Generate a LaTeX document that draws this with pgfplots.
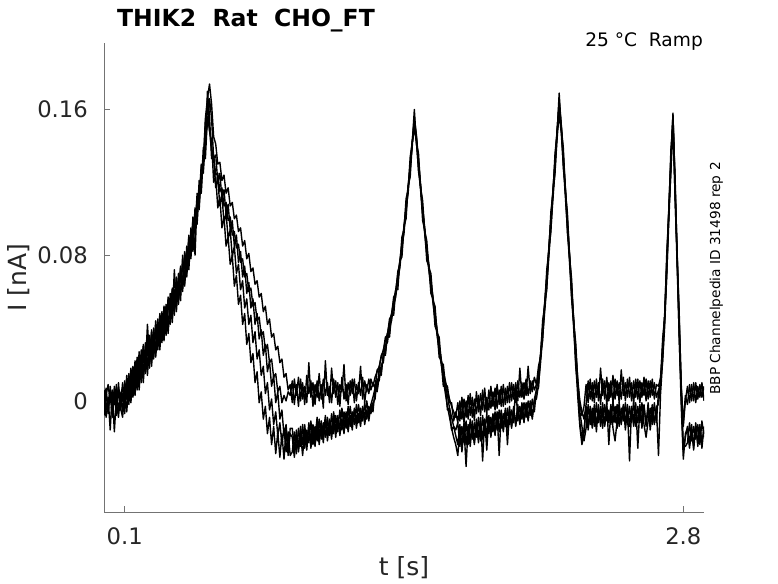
\documentclass[border=0pt]{standalone}
\usepackage{fontspec}
\setmainfont{DejaVu Sans}
\usepackage{pgfplots}
\usepackage{pgfplotstable}
\pgfplotsset{compat=1.18}
% k = time in units of 10 ms ; A..E = current in pA (0.001 nA)
\pgfplotstableread{
k A B C D E
0 -3 6 -8 4 1
1 7 -5 3 -9 5
2 -6 2 9 -2 -7
3 4 -16 -1 6 8
4 -9 5 6 -5 -3
5 8 -2 -17 3 6
6 -4 9 2 -8 -1
7 5 -6 7 10 -9
8 -2 3 -5 -4 4
9 10 -6 4 -9 7
10 -1 11 -7 6 -4
11 14 1 10 -6 12
12 3 15 -2 11 0
13 18 4 14 -1 17
14 6 19 2 15 5
15 22 6 18 3 21
16 11 24 6 19 8
17 27 10 22 6 25
18 14 28 10 24 12
19 31 13 27 10 30
20 18 32 15 28 16
21 42 17 31 14 34
22 23 36 18 32 21
23 39 22 35 19 38
24 27 40 23 36 25
25 44 26 39 24 42
26 31 45 28 41 30
27 48 31 44 28 47
28 35 49 32 46 34
29 52 35 48 33 51
30 39 53 36 50 38
31 57 39 45 37 56
32 45 59 42 55 44
33 62 46 59 43 61
34 50 72 47 61 49
35 68 52 65 49 67
36 56 70 53 66 55
37 74 58 71 55 73
38 63 77 60 80 62
39 82 65 78 63 81
40 71 85 68 81 70
41 91 75 88 72 90
42 81 95 78 91 80
43 101 85 97 82 100
44 93 106 80 102 92
45 114 99 110 97 112
46 109 121 105 117 108
47 130 116 125 114 128
48 129 139 125 134 131
49 153 140 143 133 155
50 162 170 152 156 166
51 148 156 166 149 174
52 143 133 155 137 163
53 120 133 133 135 145
54 123 117 135 124 141
55 106 122 120 125 130
56 112 107 125 115 131
57 95 113 111 117 121
58 101 98 116 107 124
59 85 103 102 109 114
60 90 89 108 99 117
61 75 94 94 101 107
62 80 79 99 91 109
63 63 85 85 93 100
64 69 70 91 84 102
65 53 75 76 86 93
66 58 61 82 76 95
67 42 66 68 78 85
68 48 51 74 68 88
69 31 56 59 70 78
70 37 42 65 60 81
71 21 47 51 62 71
72 26 32 56 52 73
73 10 38 42 54 64
74 16 23 48 44 66
75 -1 28 34 46 57
76 5 14 39 36 59
77 -10 19 25 38 49
78 -3 4 31 28 52
79 -18 10 16 31 42
80 -9 -5 22 21 45
81 -24 1 8 23 35
82 -14 -13 14 13 37
83 -29 -6 -1 15 28
84 -17 -19 5 5 30
85 -31 -12 -10 8 21
86 -18 -24 -5 -1 23
87 -32 -15 -19 3 13
88 -16 -28 -13 0 15
89 -30 -17 -27 5 6
90 -15 -30 -18 3 9
91 -15 -28 -20 11 -1
92 -27 -17 -31 -2 12
93 -16 -29 -19 9 3
94 -26 -15 -28 -3 13
95 -14 -25 -18 12 0
96 -24 -13 -30 1 10
97 -13 -26 -17 8 -2
98 -25 -16 -27 -1 14
99 -12 -23 -14 21 4
100 -22 -11 -26 2 11
101 -13 -24 -15 10 -3
102 -21 -14 -25 -2 9
103 -9 -22 -12 11 2
104 -20 -10 -24 0 15
105 -11 -21 -13 9 1
106 -19 -12 -23 -4 12
107 -8 -20 -10 22 3
108 -18 -9 -22 3 10
109 -10 -19 -12 8 -1
110 -17 -7 -21 -1 18
111 -6 -18 -9 12 4
112 -16 -8 -20 2 11
113 -9 -17 -8 10 -2
114 -15 -5 -19 -3 9
115 -4 -16 -10 13 5
116 -14 -6 -18 1 20
117 -7 -15 -6 9 0
118 -13 -3 -17 -2 10
119 -3 -14 -8 11 3
120 -12 -6 -16 4 12
121 -5 -13 -4 12 -1
122 -11 -2 -15 0 9
123 -2 -12 -7 10 4
124 -10 -4 -14 3 19
125 -4 -11 -3 13 1
126 -9 -1 -13 -1 11
127 0 -10 -5 9 5
128 -8 -3 -11 4 12
129 -2 -7 -2 12 6
130 2 -1 -6 8 10
131 7 1 6 13 7
132 6 12 5 16 17
133 18 11 13 19 18
134 14 20 16 24 25
135 26 21 25 28 27
136 25 31 26 33 35
137 37 32 36 37 36
138 35 41 37 43 45
139 48 44 47 48 47
140 47 53 51 55 57
141 61 57 60 61 59
142 61 67 65 69 71
143 77 73 76 77 75
144 79 85 83 86 90
145 96 92 95 96 94
146 100 106 104 107 111
147 118 114 117 118 116
148 123 129 127 130 134
149 142 140 142 143 142
150 149 156 150 154 160
151 144 145 142 146 141
152 126 131 128 132 136
153 118 118 116 119 117
154 99 105 103 106 110
155 94 94 92 95 93
156 77 83 81 84 88
157 74 74 72 75 73
158 59 64 63 66 70
159 56 56 54 57 55
160 41 47 45 48 52
161 38 38 36 39 37
162 24 30 28 31 35
163 22 22 20 23 21
164 8 15 12 16 20
165 8 8 4 11 9
166 -5 3 -3 6 8
167 -4 -4 -9 1 -1
168 -16 -9 -15 -3 -1
169 -14 -14 -20 -6 -11
170 -19 -16 -24 -9 -6
171 -24 -12 -30 -1 -12
172 -13 -25 -16 -11 0
173 -26 -14 -28 2 -10
174 -12 -23 -15 -12 1
175 -24 -11 -36 0 -9
176 -13 -24 -14 -10 3
177 -22 -10 -25 4 -8
178 -11 -21 -13 -9 2
179 -23 -12 -24 1 -11
180 -10 -20 -12 -7 5
181 -21 -9 -23 3 -6
182 -9 -22 -11 -8 4
183 -33 -8 -21 6 -5
184 -10 -19 -10 -6 7
185 -19 -7 -27 2 -7
186 -8 -18 -9 -5 6
187 -18 -9 -20 8 -4
188 -7 -17 -8 -3 5
189 -19 -6 -18 7 -5
190 -6 -16 -7 -4 9
191 -17 -5 -30 6 -2
192 -5 -15 -6 -3 8
193 -16 -7 -17 9 -3
194 -4 -14 -5 -2 7
195 -15 -4 -24 8 -1
196 -3 -13 -6 -1 10
197 -14 -5 -15 10 0
198 -4 -12 -3 1 9
199 -13 10 -14 9 -1
200 -2 -11 -4 0 11
201 -12 -3 -13 18 2
202 -1 -10 -2 2 10
203 -11 -1 -12 10 1
204 -3 -9 -1 3 12
205 -10 0 -11 19 3
206 0 -8 -2 4 11
207 -9 1 -10 11 5
208 1 -6 0 6 13
209 6 6 1 9 9
210 7 13 9 15 19
211 25 24 21 26 24
212 33 39 35 40 44
213 53 53 49 54 52
214 61 67 63 68 72
215 83 83 79 84 82
216 93 99 95 100 104
217 115 115 111 116 114
218 125 131 127 132 136
219 148 148 144 149 147
220 157 165 158 163 169
221 151 151 147 152 150
222 128 134 130 135 139
223 116 116 112 117 115
224 92 98 94 99 103
225 80 80 76 81 79
226 56 62 58 63 67
227 44 44 40 45 43
228 19 26 21 28 32
229 7 9 2 12 10
230 -12 -6 -14 -2 0
231 -21 -14 -24 -8 -6
232 -16 -22 -18 -3 -10
233 -4 -15 -3 9 -2
234 -14 -2 -16 -1 11
235 -3 -13 -5 12 1
236 -12 -4 -15 0 10
237 -2 -14 -4 11 -1
238 -13 -1 -17 2 12
239 -5 -12 -2 10 0
240 -11 -3 -14 -2 18
241 -1 -15 -6 12 3
242 -14 -2 -13 1 11
243 -3 -11 -1 13 -2
244 -12 -5 -24 0 10
245 -2 -13 -4 11 2
246 -15 0 -12 -1 14
247 -22 -12 -3 12 1
248 -11 -2 -15 3 11
249 -1 -14 -5 10 -1
250 -13 -4 -12 1 17
251 -3 -11 -2 13 3
252 -12 -1 -16 0 10
253 -2 -13 -4 12 2
254 -14 -3 -33 2 13
255 -4 -12 -3 10 0
256 -11 0 -14 -1 11
257 -1 -14 -5 12 2
258 -26 -3 -12 1 12
259 -3 -12 -2 11 -1
260 -12 -1 -15 2 10
261 -2 -13 -3 13 3
262 -14 -20 -13 0 12
263 -4 -11 -1 11 1
264 -11 -4 -16 2 11
265 -2 -13 -5 12 3
266 -13 -1 -12 1 10
267 -3 -12 -4 9 2
268 -2 5 -30 8 6
269 10 10 4 13 9
270 22 28 22 30 34
271 46 46 41 48 46
272 69 75 70 77 81
273 104 104 99 106 104
274 126 132 127 134 138
275 157 158 152 157 153
276 112 118 113 120 124
277 80 80 75 82 80
278 35 42 36 45 49
279 3 5 -3 9 7
280 -28 -24 -32 -14 -12
281 -20 -25 -18 0 3
282 -14 -23 -15 8 -2
283 -24 -12 -26 -1 9
284 -13 -22 -16 9 0
285 -25 -14 -27 0 10
286 -12 -21 -14 10 -1
287 -23 -13 -25 1 8
288 -15 -24 -13 9 2
289 -22 -11 -26 2 10
290 -16 -20 -14 8 0
}\traces

\begin{document}
\begin{tikzpicture}
\path[use as bounding box] (0,0) rectangle (778pt,583pt);
\begin{axis}[
  at={(104pt,71pt)}, anchor=south west,
  scale only axis, width=600pt, height=469pt,
  xmin=0, xmax=290, ymin=-61, ymax=196.5,
  axis x line*=bottom, axis y line*=left,
  axis line style={-, black!55, line width=0.8pt},
  every outer x axis line/.append style={-},
  every outer y axis line/.append style={-},
  xtick={10,280}, xticklabels={0.1,2.8},
  ytick={0,80,160}, yticklabels={0,0.08,0.16},
  tick style={black!55, line width=0.8pt},
  major tick length=6pt, tick align=inside,
  ticklabel style={font=\fontsize{22.7}{27}\selectfont, text=black!85, inner sep=0pt},
  yticklabel style={xshift=-16pt},
  xticklabel style={yshift=-15pt},
  /pgf/number format/assume math mode=true,
]
\addplot[black, line width=1.4pt, line join=round] table[x=k, y=A] {\traces};
\addplot[black, line width=1.4pt, line join=round] table[x=k, y=B] {\traces};
\addplot[black, line width=1.4pt, line join=round] table[x=k, y=C] {\traces};
\addplot[black, line width=1.4pt, line join=round] table[x=k, y=D] {\traces};
\addplot[black, line width=1.4pt, line join=round] table[x=k, y=E] {\traces};
\end{axis}
\node[anchor=base, font=\fontsize{23.5}{28}\selectfont\bfseries] at (246pt,556.3pt) {THIK2\ \ Rat\ \ CHO\_FT};
\node[anchor=base east, inner sep=0pt, font=\fontsize{18.6}{22}\selectfont] at (703pt,536pt) {25 °C\ \ Ramp};
\node[anchor=base, inner sep=0pt, rotate=90, font=\fontsize{13.7}{16}\selectfont] at (720pt,304.5pt) {BBP Channelpedia ID 31498 rep 2};
\node[anchor=base, inner sep=0pt, rotate=90, font=\fontsize{25}{30}\selectfont, text=black!85] at (26pt,305.5pt) {I [nA]};
\node[anchor=base, inner sep=0pt, font=\fontsize{25}{30}\selectfont, text=black!85] at (404pt,7.3pt) {t [s]};
\end{tikzpicture}
\end{document}
